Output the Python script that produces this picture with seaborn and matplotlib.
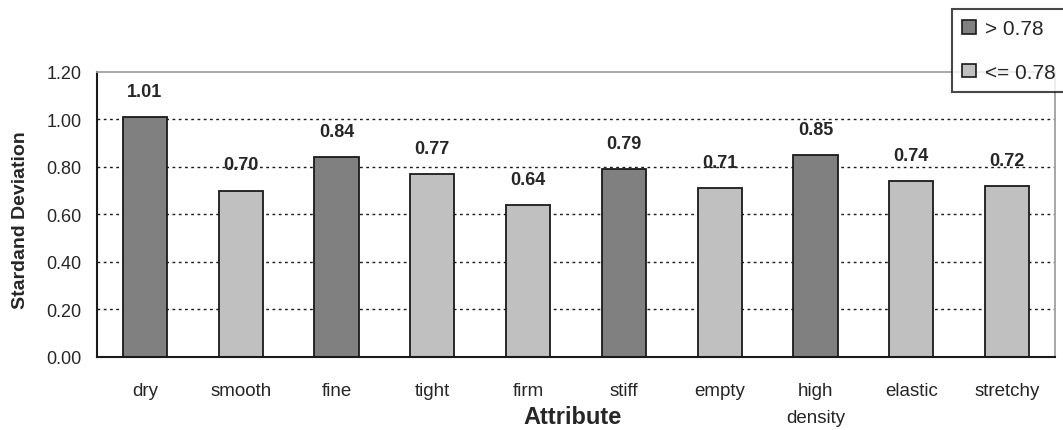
import numpy as np
import pandas as pd
import matplotlib
matplotlib.use("Agg")
import matplotlib.pyplot as plt
import seaborn as sns
from matplotlib.patches import Patch

attributes = ["dry", "smooth", "fine", "tight", "firm", "stiff", "empty",
              "high\ndensity", "elastic", "stretchy"]
std_dev = [1.01, 0.70, 0.84, 0.77, 0.64, 0.79, 0.71, 0.85, 0.74, 0.72]
threshold = 0.78
group_labels = ["> 0.78", "<= 0.78"]
group_colors = ["#808080", "#c0c0c0"]

df = pd.DataFrame({"Attribute": attributes, "Std": std_dev})
df["Group"] = np.where(df["Std"] > threshold, group_labels[0], group_labels[1])

sns.set_style("white")
plt.rcParams["font.family"] = ["Liberation Sans", "DejaVu Sans"]

fig = plt.figure(figsize=(10.63, 4.31), dpi=100)
ax = fig.add_axes([0.09125, 0.1694, 0.9012, 0.6613])

sns.barplot(data=df, x="Attribute", y="Std", hue="Group",
            hue_order=group_labels, palette=group_colors, dodge=False,
            width=0.46, edgecolor="#1a1a1a", linewidth=1.3, legend=False,
            saturation=1, ax=ax)

ax.set_xlim(-0.5, len(attributes) - 0.5)
ax.set_ylim(0, 1.2)
yt = np.arange(0, 1.21, 0.2)
ax.set_yticks(yt)
ax.set_yticklabels([f"{v:.2f}" for v in yt], fontsize=13)

# dotted gridlines behind the bars
for v in yt[1:-1]:
    ax.axhline(v, color="#1a1a1a", linestyle=(0, (2, 2.5)), linewidth=1, zorder=0)

# ticks at category boundaries, labels at centres
ax.set_xticks(np.arange(-0.5, len(attributes), 1.0))
ax.set_xticklabels([])
ax.set_xticks(np.arange(len(attributes)), minor=True)
ax.set_xticklabels(attributes, minor=True, fontsize=13.5)
for t in ax.get_xticklabels(minor=True):
    t.set_linespacing(1.8)
ax.tick_params(axis="x", which="major", direction="out", length=5, width=1.3, color="#1a1a1a")
ax.tick_params(axis="x", which="minor", length=0, pad=18)
ax.tick_params(axis="y", direction="out", length=5, width=1.3, color="#1a1a1a", pad=6)

for s in ["left", "bottom"]:
    ax.spines[s].set_color("#1a1a1a")
    ax.spines[s].set_linewidth(1.5)
for s in ["top", "right"]:
    ax.spines[s].set_color("#a0a0a0")
    ax.spines[s].set_linewidth(1.3)

ax.set_xlabel("Attribute", fontsize=17, fontweight="bold", va="center")
ax.xaxis.set_label_coords((573 - 97) / 958, (358 - 418) / 285)
ax.set_ylabel("Stardand Deviation", fontsize=14, fontweight="bold", va="center")
ax.yaxis.set_label_coords((20 - 97) / 958, 0.485)

for i, v in enumerate(std_dev):
    ax.annotate(f"{v:.2f}", (i, v), xytext=(0, 12.5), textcoords="offset points",
                ha="center", va="bottom", fontsize=13, fontweight="bold")

handles = [Patch(facecolor=c, edgecolor="#1a1a1a", linewidth=1.2) for c in group_colors]
leg = fig.legend(handles, group_labels, loc="upper left",
                 bbox_to_anchor=(952 / 1063, 1 - 10 / 431),
                 frameon=True, fancybox=False, fontsize=15,
                 handlelength=0.63, handleheight=0.63, handletextpad=0.45,
                 borderpad=0.5, labelspacing=1.18, borderaxespad=0)
leg.get_frame().set_edgecolor("#1a1a1a")
leg.get_frame().set_linewidth(1.5)

fig.savefig("out.png", dpi=100)
